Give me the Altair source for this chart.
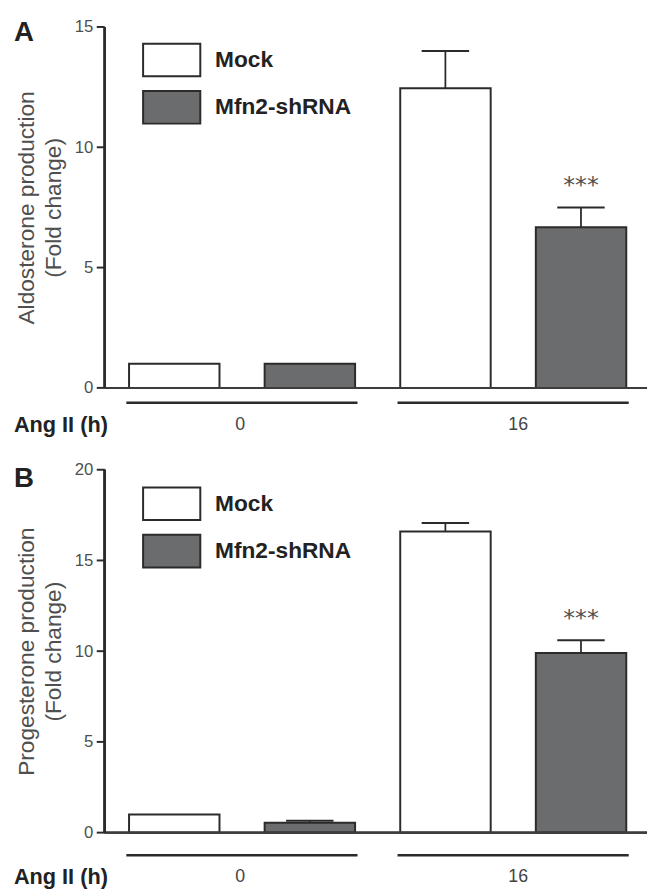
import altair as alt
import pandas as pd

# ---- data ----
treatments = ["Mock", "Mfn2-shRNA"]
ang_groups = ["0", "16"]
bar_treatment = ["Mock", "Mfn2-shRNA", "Mock", "Mfn2-shRNA"]
bar_group = ["0", "0", "16", "16"]

aldo_mean = [1.0, 1.0, 12.45, 6.68]
aldo_sem = [0.0, 0.0, 1.55, 0.82]
aldo_sig = ["", "", "", "***"]

prog_mean = [1.0, 0.55, 16.6, 9.9]
prog_sem = [0.0, 0.1, 0.47, 0.7]
prog_sig = ["", "", "", "***"]

aldo_ticks = [0, 5, 10, 15]
prog_ticks = [0, 5, 10, 15, 20]

FONT = "Liberation Sans"
DARK = "#2b2b2b"
GREY_TXT = "#4f4f4f"
FILLS = ["#ffffff", "#6b6c6e"]

W = 550


def panel(letter, title_lines, means, sems, sigs, ticks, H, ul_gap, lab_gap, letter_y, legend_y):
    n = len(means)
    df = pd.DataFrame({
        "treatment": bar_treatment,
        "group": bar_group,
        "mean": means,
        "sem": sems,
        "sig": sigs,
        "idx": list(range(n)),
    })
    df["x0"] = df["idx"] + 0.18
    df["x1"] = df["idx"] + 0.847
    df["xc"] = df["idx"] + 0.513
    df["c0"] = df["xc"] - 0.175
    df["c1"] = df["xc"] + 0.175
    df["top"] = df["mean"] + df["sem"]
    df["zero"] = 0.0

    gdf = pd.DataFrame({"label": ang_groups, "g": [0, 1]})
    gdf["g0"] = gdf["g"] * 2 + 0.16
    gdf["g1"] = gdf["g"] * 2 + 1.865
    gdf["gc"] = gdf["g"] * 2 + 1.0 + 0.05 * gdf["g"]

    tdf = pd.DataFrame({"tick": ticks})

    xs = alt.Scale(domain=[0, n], nice=False, zero=False)
    ys = alt.Scale(domain=[ticks[0], ticks[-1]], nice=False)

    base = alt.Chart(df)

    bars = base.mark_bar(stroke=DARK, strokeWidth=2).encode(
        x=alt.X("x0:Q", scale=xs,
                axis=alt.Axis(labels=False, ticks=False, grid=False, title=None,
                              domain=False)),
        x2="x1:Q",
        y=alt.Y("mean:Q", scale=ys,
                axis=alt.Axis(values=ticks, grid=False, title=title_lines,
                              domain=False, ticks=False,
                              titleFont=FONT, titleFontSize=23, titleFontWeight="normal",
                              titleColor=GREY_TXT, titleX=-90, titleY=H / 2,
                              titleBaseline="top", titleAlign="center", titleAngle=-90,
                              titleLineHeight=27,
                              labelFont=FONT, labelFontSize=17, labelColor=GREY_TXT,
                              labelPadding=12)),
        y2="zero:Q",
        fill=alt.Fill("treatment:N",
                      scale=alt.Scale(domain=treatments, range=FILLS),
                      legend=alt.Legend(orient="none", legendX=47.5, legendY=legend_y,
                                        title=None,
                                        symbolType="M-1.5,-0.855H1.5V0.855H-1.5Z",
                                        symbolSize=1495, symbolStrokeColor=DARK,
                                        symbolStrokeWidth=2,
                                        labelFont=FONT, labelFontSize=23,
                                        labelFontWeight="bold", labelColor="#222222",
                                        labelOffset=23.5, rowPadding=5)),
    )

    # axis lines and tick marks
    tbase = alt.Chart(tdf)
    y_line = tbase.mark_rule(color=DARK, strokeWidth=2).encode(
        x=alt.datum(0), y=alt.datum(ticks[0]), y2=alt.datum(ticks[-1]))
    x_line = tbase.mark_rule(color="#3c3c3c", strokeWidth=2).encode(
        y=alt.datum(ticks[0]), x=alt.datum(0), x2=alt.datum(n))
    y_ticks = tbase.mark_rule(color=DARK, strokeWidth=2).encode(
        y="tick:Q", x=alt.value(-8), x2=alt.value(0))

    err = base.transform_filter("datum.sem > 0")
    err_v = err.mark_rule(color=DARK, strokeWidth=1.8).encode(
        x="xc:Q", y="mean:Q", y2="top:Q")
    err_cap = err.mark_rule(color=DARK, strokeWidth=2).encode(
        x="c0:Q", x2="c1:Q", y="top:Q")

    stars = base.transform_filter("datum.sig != ''").mark_text(
        font="DejaVu Sans", fontSize=24, color=GREY_TXT, dy=-22, baseline="middle"
    ).encode(x="xc:Q", y="top:Q", text="sig:N")

    gbase = alt.Chart(gdf)
    underline = gbase.mark_rule(color=DARK, strokeWidth=2.5).encode(
        x="g0:Q", x2="g1:Q", y=alt.value(H + ul_gap))
    glabels = gbase.mark_text(font=FONT, fontSize=18, color="#444444", baseline="middle").encode(
        x="gc:Q", y=alt.value(H + lab_gap), text="label:N")

    ang = alt.Chart(pd.DataFrame({"t": ["Ang II (h)"]})).mark_text(
        font=FONT, fontSize=22, fontWeight="bold", color="#222222",
        align="left", baseline="middle"
    ).encode(x=alt.value(-92), y=alt.value(H + lab_gap), text="t:N")

    let = alt.Chart(pd.DataFrame({"t": [letter]})).mark_text(
        font=FONT, fontSize=28, fontWeight="bold", color="#222222",
        align="left", baseline="middle"
    ).encode(x=alt.value(-92), y=alt.value(letter_y), text="t:N")

    return alt.layer(bars, x_line, y_line, y_ticks, err_v, err_cap, stars, underline,
                     glabels, ang, let).properties(width=W, height=H)


pA = panel("A", ["Aldosterone production", "(Fold change)"], aldo_mean, aldo_sem, aldo_sig,
           aldo_ticks, 366, 15, 38, 6, 13)
pB = panel("B", ["Progesterone production", "(Fold change)"], prog_mean, prog_sem, prog_sig,
           prog_ticks, 368, 23, 45, 10, 14)

chart = alt.vconcat(pA, pB, spacing=25).resolve_scale(fill="independent").resolve_legend(
    fill="independent"
).properties(
    padding={"left": 6, "top": 4, "right": 0, "bottom": 0}
).configure(font=FONT).configure_view(stroke=None)

chart.save("out.html", embed_options={"renderer": "svg", "actions": False})
